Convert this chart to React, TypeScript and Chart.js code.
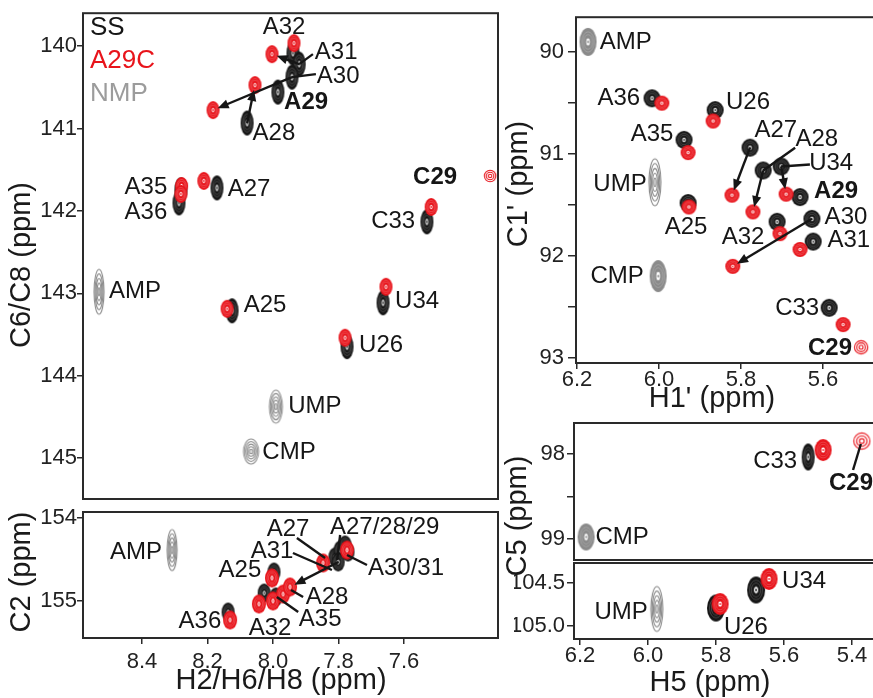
import React, { useEffect, useRef } from 'react';
import { Chart, registerables } from 'chart.js';
Chart.register(...registerables);

const FONT = '"Liberation Sans", Arial, Helvetica, sans-serif';
const BLACK = '#161616';
const RED = '#e8141b';
const GRAY = '#8a8a8a';

type Pt = [number, number];
type Lab = [string, number, number, boolean?];
type Seg = [number, number, number, number];

// ---------- Panel 1: H2/H6/H8 vs C6/C8 ----------
const P1_SS: Pt[] = [
  [7.939, 140.085], [7.920, 140.218], [7.942, 140.376], [7.985, 140.558], [8.079, 140.933],
  [8.171, 141.721], [8.281, 141.745], [8.287, 141.903], [7.530, 142.133], [8.125, 143.212],
  [7.664, 143.115], [7.774, 143.648],
];
const P1_A29C: Pt[] = [
  [7.936, 139.964], [8.003, 140.097], [8.183, 140.776], [8.055, 140.473], [8.211, 141.636],
  [8.279, 141.697], [8.281, 141.794], [7.517, 141.952], [8.140, 143.188], [7.655, 142.921],
  [7.780, 143.539],
];
const P1_C29: Pt[] = [[7.337, 141.576]];
const P1_NMP: Pt[] = [[8.531, 142.982], [7.991, 144.376], [8.067, 144.921]];
const P1_LABELS: Lab[] = [
  ['A32', 7.966, 139.77], ['A31', 7.807, 140.073], ['A30', 7.801, 140.364], ['A29', 7.899, 140.679, true],
  ['A28', 7.997, 141.055], ['A35', 8.388, 141.709], ['A36', 8.388, 142.012], ['A27', 8.073, 141.733],
  ['C29', 7.505, 141.588, true], ['C33', 7.633, 142.133], ['AMP', 8.421, 142.982], ['A25', 8.024, 143.152],
  ['U34', 7.560, 143.103], ['U26', 7.670, 143.636], ['UMP', 7.872, 144.376], ['CMP', 7.951, 144.933],
];
const P1_LEADERS: Seg[] = [[7.878, 140.097, 7.920, 140.218], [7.869, 140.339, 7.942, 140.376]];
const P1_ARROWS: Seg[] = [[7.920, 140.218, 8.003, 140.097], [7.942, 140.376, 8.183, 140.776], [8.079, 140.933, 8.055, 140.473]];
const P1_YTICKS = [140, 141, 142, 143, 144, 145];
const P1_YLABELS = ['140', '141', '142', '143', '144', '145'];

// ---------- Panel 2: H2 vs C2 ----------
const P2_SS: Pt[] = [
  [7.997, 154.651], [8.137, 155.133], [8.027, 154.904], [7.991, 154.952], [7.811, 154.47],
  [7.795, 154.386], [7.780, 154.325], [7.771, 154.41], [7.801, 154.53],
];
const P2_A29C: Pt[] = [
  [8.003, 154.723], [8.131, 155.229], [8.043, 155.036], [8.000, 155.0], [7.969, 154.916],
  [7.948, 154.831], [7.847, 154.542], [7.774, 154.386],
];
const P2_NMP: Pt[] = [[8.308, 154.386]];
const P2_LABELS: Lab[] = [
  ['AMP', 8.418, 154.41], ['A25', 8.101, 154.627], ['A36', 8.223, 155.241], ['A32', 8.009, 155.325],
  ['A35', 7.856, 155.217], ['A28', 7.835, 154.952], ['A31', 8.003, 154.398], ['A27', 7.954, 154.133],
  ['A27/28/29', 7.659, 154.108], ['A30/31', 7.594, 154.602],
];
const P2_LEADERS: Seg[] = [
  [7.795, 154.205, 7.804, 154.506], [7.713, 154.566, 7.774, 154.446], [7.927, 154.241, 7.841, 154.482],
  [7.939, 154.422, 7.820, 154.627], [7.908, 154.952, 7.945, 154.867], [7.923, 155.133, 7.988, 154.952],
];
const P2_ARROWS: Seg[] = [[7.80, 154.53, 7.948, 154.831]];
const P2_XTICKS = [8.4, 8.2, 8.0, 7.8, 7.6];
const P2_XLABELS = ['8.4', '8.2', '8.0', '7.8', '7.6'];
const P2_YTICKS = [154, 155];
const P2_YLABELS = ['154', '155'];

// ---------- Panel 3: H1' vs C1' ----------
const P3_SS: Pt[] = [
  [6.017, 90.455], [5.863, 90.571], [5.939, 90.862], [5.778, 90.939], [5.929, 91.481],
  [5.746, 91.162], [5.702, 91.123], [5.656, 91.423], [5.712, 91.665], [5.627, 91.636],
  [5.624, 91.859], [5.585, 92.507],
];
const P3_A29C: Pt[] = [
  [5.993, 90.503], [5.868, 90.678], [5.929, 90.987], [5.822, 91.404], [5.927, 91.520],
  [5.771, 91.568], [5.690, 91.394], [5.705, 91.781], [5.656, 91.936], [5.820, 92.101],
  [5.551, 92.672],
];
const P3_C29: Pt[] = [[5.507, 92.894]];
const P3_NMP: Pt[] = [[6.173, 89.903], [6.010, 91.278], [6.002, 92.197]];
const P3_LABELS: Lab[] = [
  ['AMP', 6.081, 89.903], ['A36', 6.098, 90.455], ['U26', 5.783, 90.494], ['A35', 6.017, 90.813],
  ['A27', 5.715, 90.765], ['A28', 5.615, 90.862], ['U34', 5.580, 91.094], ['A29', 5.568, 91.365, true],
  ['UMP', 6.095, 91.297], ['A25', 5.934, 91.723], ['A30', 5.544, 91.626], ['A31', 5.537, 91.849],
  ['A32', 5.795, 91.820], ['CMP', 6.102, 92.197], ['C33', 5.663, 92.517], ['C29', 5.583, 92.904, true],
];
const P3_LEADERS: Seg[] = [[5.668, 90.939, 5.746, 91.162], [5.632, 91.104, 5.702, 91.123]];
const P3_ARROWS: Seg[] = [
  [5.778, 90.939, 5.822, 91.404], [5.746, 91.162, 5.771, 91.568],
  [5.702, 91.123, 5.690, 91.394], [5.627, 91.636, 5.820, 92.101],
];
const P3_XTICKS = [6.2, 6.0, 5.8, 5.6];
const P3_XLABELS = ['6.2', '6.0', '5.8', '5.6'];
const P3_YTICKS = [90, 90.5, 91, 91.5, 92, 92.5, 93];
const P3_YLABELS = ['90', '', '91', '', '92', '', '93'];

// ---------- Panel 4: H5 vs C5 (cytidines) ----------
const P4_SS: Pt[] = [[5.529, 98.035]];
const P4_A29C: Pt[] = [[5.485, 97.953]];
const P4_C29: Pt[] = [[5.371, 97.847]];
const P4_NMP: Pt[] = [[6.182, 98.976]];
const P4_LABELS: Lab[] = [['C33', 5.626, 98.082], ['C29', 5.403, 98.341, true], ['CMP', 6.076, 98.976]];
const P4_LEADERS: Seg[] = [[5.397, 98.188, 5.374, 97.882]];
const P4_YTICKS = [98, 98.5, 99];
const P4_YLABELS = ['98', '', '99'];

// ---------- Panel 5: H5 vs C5 (uridines) ----------
const P5_SS: Pt[] = [[5.682, 104.581], [5.800, 104.791]];
const P5_A29C: Pt[] = [[5.644, 104.453], [5.788, 104.744]];
const P5_NMP: Pt[] = [[5.974, 104.802]];
const P5_LABELS: Lab[] = [['U34', 5.541, 104.477], ['U26', 5.712, 105.012], ['UMP', 6.079, 104.837]];
const P5_XTICKS = [6.2, 6.0, 5.8, 5.6, 5.4];
const P5_XLABELS = ['6.2', '6.0', '5.8', '5.6', '5.4'];
const P5_YTICKS = [104.5, 105.0];
const P5_YLABELS = ['104.5', '105.0'];

// ---------- styles ----------
type Shape = [string, number, number];
type Title = [string, number, number, boolean];

interface Spec {
  area: { l: number; t: number; r: number; b: number };
  xr: [number, number]; yr: [number, number];
  xt: number[] | null; xl: string[]; yt: number[]; yl: string[];
  xPad: number; yPad: number; yTick: number;
  ss: Pt[]; red: Pt[]; open: Pt[]; nmp: Pt[];
  ssShape: Shape; redShape: Shape; openShape: Shape; nmpShapes: Shape[];
  labels: Lab[]; leaders: Seg[]; arrows: Seg[]; titles: Title[]; legend: boolean;
}

const PANELS: Spec[] = [
  {
    area: { l: 83, t: 13, r: 498, b: 499 }, xr: [7.313, 8.58], yr: [139.6, 145.497],
    xt: null, xl: [], yt: P1_YTICKS, yl: P1_YLABELS, xPad: 0, yPad: 0, yTick: 6,
    ss: P1_SS, red: P1_A29C, open: P1_C29, nmp: P1_NMP,
    ssShape: ['dense', 13, 25], redShape: ['dense', 13, 18], openShape: ['open', 12, 12],
    nmpShapes: [['rings', 10, 45], ['rings', 13, 33], ['rings', 15, 25]],
    labels: P1_LABELS, leaders: P1_LEADERS, arrows: P1_ARROWS,
    titles: [['C6/C8 (ppm)', 22, 265, true]], legend: true,
  },
  {
    area: { l: 83, t: 512, r: 498, b: 638 }, xr: [7.313, 8.58], yr: [153.928, 155.446],
    xt: P2_XTICKS, xl: P2_XLABELS, yt: P2_YTICKS, yl: P2_YLABELS, xPad: 5, yPad: 0, yTick: 6,
    ss: P2_SS, red: P2_A29C, open: [], nmp: P2_NMP,
    ssShape: ['dense', 13, 19], redShape: ['dense', 14, 19], openShape: ['open', 13, 13],
    nmpShapes: [['rings', 10, 41]],
    labels: P2_LABELS, leaders: P2_LEADERS, arrows: P2_ARROWS,
    titles: [['C2 (ppm)', 22, 572, true], ['H2/H6/H8 (ppm)', 281, 681, false]], legend: false,
  },
  {
    area: { l: 576, t: 13, r: 875, b: 363 }, xr: [5.4732, 6.2024], yr: [89.661, 93.048],
    xt: P3_XTICKS, xl: P3_XLABELS, yt: P3_YTICKS, yl: P3_YLABELS, xPad: -2, yPad: 4, yTick: 8,
    ss: P3_SS, red: P3_A29C, open: P3_C29, nmp: P3_NMP,
    ssShape: ['dense', 17, 18], redShape: ['dense', 15, 15], openShape: ['open', 14, 14],
    nmpShapes: [['gdense', 17, 28], ['rings', 12, 47], ['gdense', 17, 32]],
    labels: P3_LABELS, leaders: P3_LEADERS, arrows: P3_ARROWS,
    titles: [["C1' (ppm)", 519, 184, true], ["H1' (ppm)", 712, 399, false]], legend: false,
  },
  {
    area: { l: 574, t: 423, r: 875, b: 560 }, xr: [5.3324, 6.2176], yr: [97.635, 99.247],
    xt: null, xl: [], yt: P4_YTICKS, yl: P4_YLABELS, xPad: 0, yPad: 2, yTick: 7,
    ss: P4_SS, red: P4_A29C, open: P4_C29, nmp: P4_NMP,
    ssShape: ['dense', 13, 27], redShape: ['dense', 17, 22], openShape: ['open', 17, 17],
    nmpShapes: [['gdense', 17, 27]],
    labels: P4_LABELS, leaders: P4_LEADERS, arrows: [],
    titles: [], legend: false,
  },
  {
    area: { l: 574, t: 563, r: 875, b: 639 }, xr: [5.3324, 6.2176], yr: [104.267, 105.151],
    xt: P5_XTICKS, xl: P5_XLABELS, yt: P5_YTICKS, yl: P5_YLABELS, xPad: -2, yPad: 2, yTick: 7,
    ss: P5_SS, red: P5_A29C, open: [], nmp: P5_NMP,
    ssShape: ['dense', 18, 27], redShape: ['dense', 17, 22], openShape: ['open', 14, 14],
    nmpShapes: [['rings', 12, 45]],
    labels: P5_LABELS, leaders: [], arrows: [],
    titles: [['C5 (ppm)', 518, 516, true], ['H5 (ppm)', 710, 683, false]], legend: false,
  },
];

function makePeak(kind: string, color: string, w: number, h: number): HTMLCanvasElement {
  const c = document.createElement('canvas');
  c.width = Math.ceil(w + 4);
  c.height = Math.ceil(h + 4);
  const g = c.getContext('2d') as CanvasRenderingContext2D;
  const cx = c.width / 2, cy = c.height / 2, rx = w / 2, ry = h / 2;
  const ell = (s: number) => {
    g.beginPath();
    g.ellipse(cx, cy, Math.max(rx * s, 0.5), Math.max(ry * s, 0.5), 0, 0, Math.PI * 2);
  };
  if (kind === 'dense' || kind === 'gdense') {
    const col = kind === 'gdense' ? GRAY : color;
    g.fillStyle = col; ell(1); g.fill();
    g.strokeStyle = 'rgba(255,255,255,0.35)'; g.lineWidth = 0.6;
    for (const s of [0.72, 0.52]) { ell(s); g.stroke(); }
    g.fillStyle = '#fff'; ell(0.28); g.fill();
    g.strokeStyle = col; g.lineWidth = 0.9; ell(0.28); g.stroke();
    g.fillStyle = col; ell(0.1); g.fill();
  } else if (kind === 'rings') {
    const n = 5;
    g.strokeStyle = color; g.lineWidth = 1.1;
    for (let i = 0; i < n; i++) { ell(1 - (i * 0.82) / (n - 1)); g.stroke(); }
  } else {
    g.strokeStyle = color; g.lineWidth = 1.1;
    for (const s of [0.95, 0.62, 0.28]) { ell(s); g.stroke(); }
  }
  return c;
}

function drawArrow(ctx: CanvasRenderingContext2D, x1: number, y1: number, x2: number, y2: number, head: number, gap: number) {
  const dx = x2 - x1, dy = y2 - y1;
  const L = Math.hypot(dx, dy) || 1;
  const ux = dx / L, uy = dy / L;
  const ex = x2 - ux * gap, ey = y2 - uy * gap;
  ctx.beginPath();
  ctx.moveTo(x1, y1);
  ctx.lineTo(ex - ux * head * 0.8, ey - uy * head * 0.8);
  ctx.stroke();
  ctx.beginPath();
  ctx.moveTo(ex, ey);
  ctx.lineTo(ex - ux * head - uy * head * 0.42, ey - uy * head + ux * head * 0.42);
  ctx.lineTo(ex - ux * head + uy * head * 0.42, ey - uy * head - ux * head * 0.42);
  ctx.closePath();
  ctx.fill();
}

function overlay(spec: Spec) {
  return {
    id: 'overlay',
    afterDatasetsDraw(chart: any) {
      const ctx: CanvasRenderingContext2D = chart.ctx;
      const xs = chart.scales.x, ys = chart.scales.y;
      const px = (v: number) => xs.getPixelForValue(v);
      const py = (v: number) => ys.getPixelForValue(v);
      const a = chart.chartArea;
      ctx.save();
      ctx.strokeStyle = '#2a2a2a';
      ctx.lineWidth = 2;
      ctx.strokeRect(a.left, a.top, a.right - a.left, a.bottom - a.top);

      ctx.strokeStyle = BLACK;
      ctx.fillStyle = BLACK;
      ctx.lineWidth = 2.4;
      for (const [x1, y1, x2, y2] of spec.leaders) {
        ctx.beginPath();
        ctx.moveTo(px(x1), py(y1));
        ctx.lineTo(px(x2), py(y2));
        ctx.stroke();
      }
      for (const [x1, y1, x2, y2] of spec.arrows) {
        drawArrow(ctx, px(x1), py(y1), px(x2), py(y2), 11, 5);
      }

      ctx.textAlign = 'center';
      ctx.textBaseline = 'middle';
      for (const [t, x, y, b] of spec.labels) {
        ctx.font = `${b ? 'bold ' : ''}24px ${FONT}`;
        ctx.fillStyle = BLACK;
        ctx.fillText(t, px(x), py(y));
      }

      ctx.font = `29px ${FONT}`;
      ctx.fillStyle = '#1a1a1a';
      for (const [t, x, y, rot] of spec.titles) {
        ctx.save();
        ctx.translate(x, y);
        if (rot) ctx.rotate(-Math.PI / 2);
        ctx.fillText(t, 0, 0);
        ctx.restore();
      }

      if (spec.legend) {
        ctx.textAlign = 'left';
        ctx.font = `26px ${FONT}`;
        const items: [string, string][] = [['SS', BLACK], ['A29C', RED], ['NMP', '#9c9c9c']];
        items.forEach(([t, c], i) => {
          ctx.fillStyle = c;
          ctx.fillText(t, a.left + 7, a.top + 15 + i * 33);
        });
      }
      ctx.restore();
    },
  };
}

function makeChart(canvas: HTMLCanvasElement, spec: Spec) {
  const W = canvas.width, H = canvas.height;
  const yW = 60;
  const xH = spec.xt ? 40 : 0;
  const toXY = (arr: Pt[]) => arr.map(([x, y]) => ({ x, y }));
  const datasets: any[] = [];
  if (spec.open.length) datasets.push({ data: toXY(spec.open), pointStyle: makePeak(spec.openShape[0], RED, spec.openShape[1], spec.openShape[2]), pointRadius: 3 });
  datasets.push({ data: toXY(spec.red), pointStyle: makePeak(spec.redShape[0], RED, spec.redShape[1], spec.redShape[2]), pointRadius: 3 });
  datasets.push({ data: toXY(spec.ss), pointStyle: makePeak(spec.ssShape[0], BLACK, spec.ssShape[1], spec.ssShape[2]), pointRadius: 3 });
  datasets.push({ data: toXY(spec.nmp), pointStyle: spec.nmpShapes.map((s) => makePeak(s[0], GRAY, s[1], s[2])), pointRadius: 3 });

  const tickFont = { family: FONT, size: 22 };
  return new Chart(canvas, {
    type: 'scatter',
    data: { datasets },
    options: {
      responsive: false,
      animation: false,
      devicePixelRatio: 1,
      events: [],
      layout: { padding: { left: spec.area.l - yW, top: spec.area.t, right: W - spec.area.r, bottom: H - spec.area.b - xH } },
      plugins: { legend: { display: false }, tooltip: { enabled: false } },
      scales: {
        x: {
          type: 'linear',
          min: spec.xr[0], max: spec.xr[1], reverse: true,
          display: !!spec.xt,
          afterFit: (s: any) => { s.height = xH; },
          afterBuildTicks: (s: any) => { if (spec.xt) s.ticks = spec.xt.map((v) => ({ value: v })); },
          ticks: { callback: (_v: any, i: number) => spec.xl[i], font: tickFont, color: '#222', padding: spec.xPad, maxRotation: 0, autoSkip: false },
          grid: { drawOnChartArea: false, drawTicks: true, tickLength: 6, color: '#2a2a2a', lineWidth: 1.5 },
          border: { display: false },
        },
        y: {
          type: 'linear',
          min: spec.yr[0], max: spec.yr[1], reverse: true,
          afterFit: (s: any) => { s.width = yW; },
          afterBuildTicks: (s: any) => { s.ticks = spec.yt.map((v) => ({ value: v })); },
          ticks: { callback: (_v: any, i: number) => spec.yl[i], font: tickFont, color: '#222', padding: spec.yPad, autoSkip: false },
          grid: { drawOnChartArea: false, drawTicks: true, tickLength: spec.yTick, color: '#2a2a2a', lineWidth: 1.5 },
          border: { display: false },
        },
      },
    } as any,
    plugins: [overlay(spec)],
  });
}

export default function App() {
  const refs = useRef<(HTMLCanvasElement | null)[]>([]);
  useEffect(() => {
    const charts = PANELS.map((spec, i) => makeChart(refs.current[i] as HTMLCanvasElement, spec));
    return () => charts.forEach((c) => c.destroy());
  }, []);
  return (
    <div style={{ position: 'fixed', left: 0, top: 0, width: 873, height: 698, overflow: 'hidden', background: '#fff' }}>
      {PANELS.map((_p, i) => (
        <canvas
          key={i}
          ref={(el) => { refs.current[i] = el; }}
          width={900}
          height={698}
          style={{ position: 'absolute', left: 0, top: 0 }}
        />
      ))}
    </div>
  );
}
